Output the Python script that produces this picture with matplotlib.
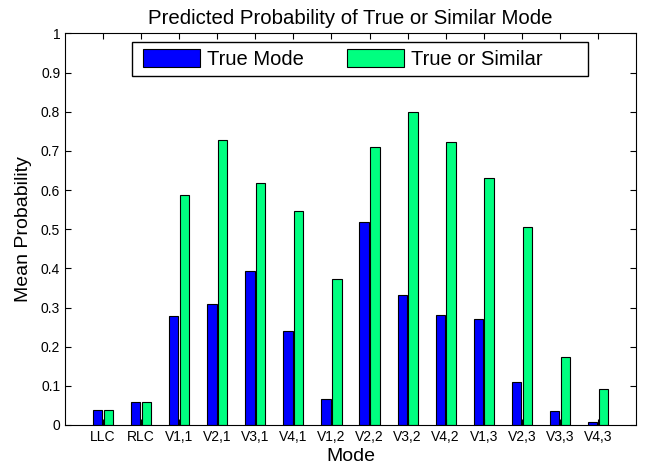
import numpy as np
import matplotlib
matplotlib.use("Agg")
import matplotlib.pyplot as plt
from matplotlib.patches import Rectangle

plt.rcParams["font.family"] = ["Liberation Sans", "DejaVu Sans"]

modes = ["LLC", "RLC", "V1,1", "V2,1", "V3,1", "V4,1", "V1,2", "V2,2",
         "V3,2", "V4,2", "V1,3", "V2,3", "V3,3", "V4,3"]
true_mode = [0.038, 0.058, 0.278, 0.308, 0.392, 0.240, 0.066, 0.519,
             0.331, 0.282, 0.271, 0.111, 0.035, 0.008]
true_or_similar = [0.038, 0.058, 0.588, 0.728, 0.619, 0.546, 0.372, 0.709,
                   0.800, 0.724, 0.632, 0.506, 0.174, 0.093]

fig = plt.figure(figsize=(6.49, 4.71), dpi=100)
ax = fig.add_axes([0.1002, 0.0977, 0.8798, 0.8313])

x = np.arange(1, len(modes) + 1)
w = 0.245
off = 0.142
ax.bar(x - off, true_mode, w, color="#0000ff", edgecolor="black",
       linewidth=0.8, label="True Mode")
ax.bar(x + off, true_or_similar, w, color="#00ff80", edgecolor="black",
       linewidth=0.8, label="True or Similar")

ax.set_xlim(0, 15)
ax.set_ylim(0, 1)
ax.set_xticks(x)
ax.set_xticklabels(modes, fontsize=10)
yt = np.round(np.arange(0, 1.01, 0.1), 1)
ax.set_yticks(yt)
ax.set_yticklabels([f"{v:g}" for v in yt], fontsize=10)
ax.tick_params(direction="in", top=True, right=True, length=4, width=0.8)
for s in ax.spines.values():
    s.set_linewidth(0.8)

ax.set_xlabel("Mode", fontsize=14, labelpad=3)
ax.set_ylabel("Mean Probability", fontsize=14, labelpad=6)
ax.set_title("Predicted Probability of True or Similar Mode", fontsize=14.7, pad=6.5)

# legend: MATLAB-style wide box drawn as a frame, entries without frame
ax.add_patch(Rectangle((0.1173, 0.891), 0.799, 0.086, transform=ax.transAxes,
                       facecolor="white", edgecolor="black", linewidth=1.0,
                       zorder=4))
leg = ax.legend(loc="center left", bbox_to_anchor=(0.1366, 0.934), ncol=2,
                fontsize=14.5, frameon=False, handlelength=2.85, handleheight=1.0,
                columnspacing=2.1, borderpad=0, handletextpad=0.35,
                borderaxespad=0)
leg.set_zorder(5)

fig.savefig("out.png", dpi=100)
